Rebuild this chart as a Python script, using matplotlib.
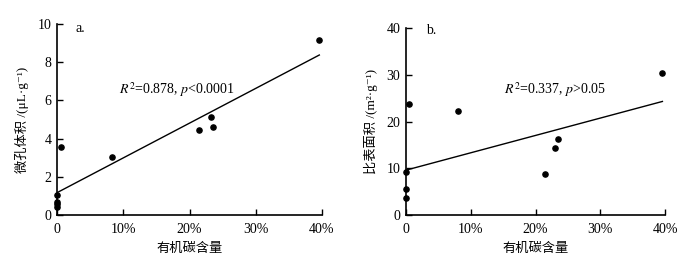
import matplotlib
matplotlib.use('Agg')
import matplotlib.pyplot as plt
import numpy as np

plt.rcParams['font.family'] = ['Liberation Serif', 'Noto Sans CJK SC', 'DejaVu Serif']
plt.rcParams['mathtext.fontset'] = 'stix'

# panel a: organic carbon (%) vs micropore volume
oc_a = [0.0, 0.0, 0.0, 0.0, 0.6, 8.3, 21.5, 23.2, 23.5, 39.5]
vol_a = [1.05, 0.70, 0.60, 0.44, 3.58, 3.05, 4.45, 5.15, 4.62, 9.16]
fit_a = (0.182, 1.17)   # slope, intercept

# panel b: organic carbon (%) vs specific surface area
oc_b = [0.0, 0.0, 0.0, 0.4, 8.1, 21.4, 23.0, 23.4, 39.5]
ssa_b = [9.1, 5.6, 3.6, 23.7, 22.2, 8.8, 14.3, 16.2, 30.4]
fit_b = (0.371, 9.6)

fit_x = [0.0, 39.6]
xticks = [0, 10, 20, 30, 40]
xticklabels = ['0', '10%', '20%', '30%', '40%']

fig = plt.figure(figsize=(6.93, 2.61), dpi=100)
ax1 = fig.add_axes([0.0823, 0.1762, 0.3823, 0.7318])
ax2 = fig.add_axes([0.5859, 0.1762, 0.3737, 0.7165])

panels = [
    (ax1, oc_a, vol_a, fit_a, (0, 10), [0, 2, 4, 6, 8, 10],
     '微孔体积 /(μL·g⁻¹)', 'a.', (0.07, 0.974), (18.1, 6.58),
     '$R^2$=0.878, $p$<0.0001'),
    (ax2, oc_b, ssa_b, fit_b, (0, 40), [0, 10, 20, 30, 40],
     '比表面积 /(m²·g⁻¹)', 'b.', (0.077, 0.984), (23.0, 26.9),
     '$R^2$=0.337, $p$>0.05'),
]

for ax, x, y, fit, ylim, yticks, ylabel, tag, tagxy, txy, txt in panels:
    ax.scatter(x, y, s=14, color='black', zorder=3, clip_on=False)
    fx = np.array(fit_x)
    ax.plot(fx, fit[0] * fx + fit[1], color='black', lw=1.0)
    ax.set_xlim(0, 40)
    ax.set_ylim(*ylim)
    ax.set_xticks(xticks)
    ax.set_xticklabels(xticklabels)
    ax.set_yticks(yticks)
    for s in ('top', 'right'):
        ax.spines[s].set_visible(False)
    for s in ('left', 'bottom'):
        ax.spines[s].set_linewidth(1.2)
    ax.tick_params(direction='in', length=4, width=1, labelsize=10)
    ax.tick_params(axis='x', pad=6)
    ax.tick_params(axis='y', pad=4)
    ax.set_xlabel('有机碳含量', fontsize=9.5, labelpad=5)
    ax.set_ylabel(ylabel, fontsize=9.5, labelpad=6)
    ax.text(tagxy[0], tagxy[1], tag, transform=ax.transAxes, fontsize=10,
            va='center', ha='left')
    ax.text(txy[0], txy[1], txt, fontsize=10, ha='center', va='center')

fig.savefig('out.png', dpi=100)
